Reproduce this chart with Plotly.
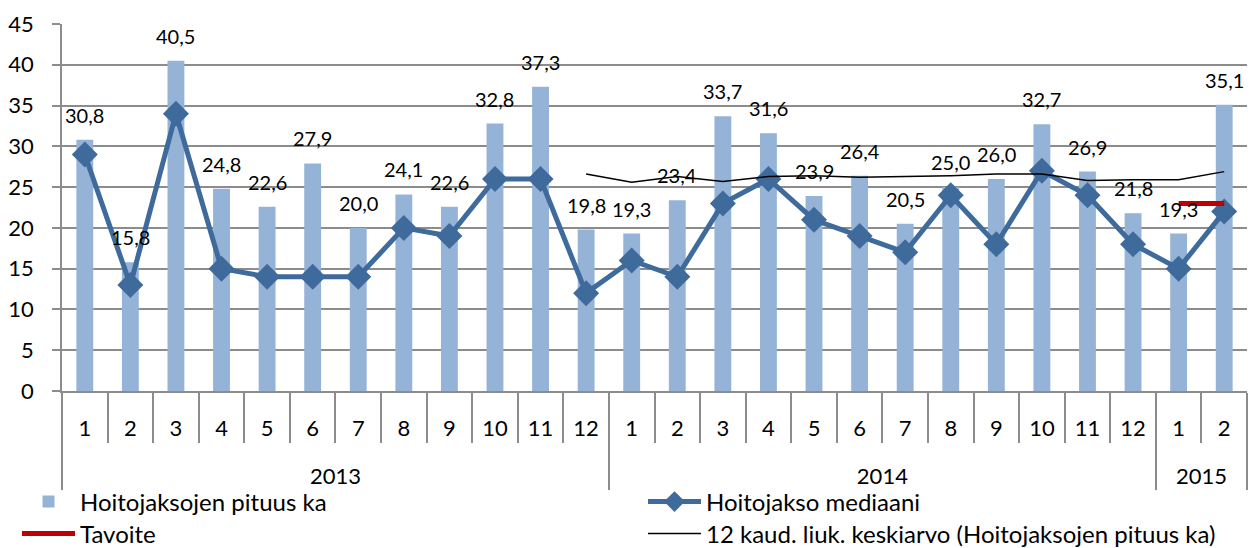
import plotly.graph_objects as go

years = ["2013"] * 12 + ["2014"] * 12 + ["2015"] * 2
months = [str(m) for m in range(1, 13)] * 2 + ["1", "2"]

pituus_ka = [30.8, 15.8, 40.5, 24.8, 22.6, 27.9, 20.0, 24.1, 22.6, 32.8, 37.3, 19.8,
             19.3, 23.4, 33.7, 31.6, 23.9, 26.4, 20.5, 25.0, 26.0, 32.7, 26.9, 21.8,
             19.3, 35.1]
pituus_labels = ["30,8", "15,8", "40,5", "24,8", "22,6", "27,9", "20,0", "24,1", "22,6", "32,8", "37,3", "19,8",
                 "19,3", "23,4", "33,7", "31,6", "23,9", "26,4", "20,5", "25,0", "26,0", "32,7", "26,9", "21,8",
                 "19,3", "35,1"]
mediaani = [29, 13, 34, 15, 14, 14, 14, 20, 19, 26, 26, 12,
            16, 14, 23, 26, 21, 19, 17, 24, 18, 27, 24, 18,
            15, 22]
# 12-month moving average, starting from 2013/12
liuk_start = 11
liuk_keskiarvo = [26.6, 25.6, 26.3, 25.7, 26.3, 26.4, 26.2, 26.3, 26.4, 26.6, 26.6, 25.8, 25.9, 25.9, 26.9]
# target, for 2015/1 - 2015/2
tavoite_start = 24
tavoite = [23, 23]

FONT = "Lato"
LBL = "<span style='font-size:22px'>{}</span>"
month_txt = [LBL.format(m) + "<br> " for m in months]
year_txt = [LBL.format(y) for y in years]
x_all = [year_txt, month_txt]
x_liuk = [year_txt[liuk_start:], month_txt[liuk_start:]]
x_tav = [year_txt[tavoite_start:], month_txt[tavoite_start:]]

fig = go.Figure()
fig.add_trace(go.Bar(x=x_all, y=pituus_ka, name="Hoitojaksojen pituus ka", legend="legend",
                     marker=dict(color="#95B3D7", line=dict(width=0)), width=0.37))
fig.add_trace(go.Scatter(x=x_all, y=mediaani, name="Hoitojakso mediaani", mode="lines+markers",
                         legend="legend2",
                         line=dict(color="#3E6A9C", width=5),
                         marker=dict(symbol="diamond", size=20, color="#3E6A9C")))
fig.add_trace(go.Scatter(x=x_tav, y=tavoite, name="Tavoite", mode="lines", legend="legend3",
                         line=dict(color="#C00000", width=5)))
fig.add_trace(go.Scatter(x=x_liuk, y=liuk_keskiarvo, name="12 kaud. liuk. keskiarvo (Hoitojaksojen pituus ka)",
                         mode="lines", legend="legend4", line=dict(color="black", width=1.5)))

for i, (v, t) in enumerate(zip(pituus_ka, pituus_labels)):
    fig.add_annotation(x=i, y=v, text=t, showarrow=False, yshift=25, yanchor="middle",
                       font=dict(family=FONT, size=20, color="black"))

W, H = 1250, 548


def leg(px_x, px_y):
    return dict(orientation="h", xref="container", yref="container",
                x=px_x / W, y=(H - px_y) / H, xanchor="left", yanchor="middle",
                font=dict(family=FONT, size=24, color="black"), itemwidth=53,
                bgcolor="rgba(0,0,0,0)", borderwidth=0)


fig.update_layout(
    width=W, height=H,
    margin=dict(l=62, r=3, t=24, b=157, autoexpand=False),
    plot_bgcolor="white", paper_bgcolor="white",
    font=dict(family=FONT, size=20, color="black"),
    showlegend=True,
    legend=leg(17, 502),
    legend2=leg(643, 502),
    legend3=leg(17, 534),
    legend4=leg(643, 534),
    bargap=0.63,
)
fig.update_yaxes(range=[0, 45], dtick=5, showgrid=True, gridcolor="#8C8C8C", gridwidth=1.5,
                 showline=True, linecolor="#8C8C8C", linewidth=1.5, ticks="outside", ticklen=8,
                 tickcolor="#8C8C8C", tickwidth=1.5, tickfont=dict(family=FONT, size=22, color="black"),
                 ticklabelstandoff=14, zeroline=False, automargin=False)
fig.update_xaxes(type="multicategory", range=[-0.5, 25.5], autorange=False, automargin=False,
                 showline=True, linecolor="#8C8C8C", linewidth=1.5,
                 ticks="outside", ticklen=50, tickcolor="#8C8C8C", tickwidth=1.5,
                 showdividers=True, dividercolor="#8C8C8C", dividerwidth=1.5,
                 ticklabelstandoff=13,
                 tickfont=dict(family=FONT, size=25, color="black"), showgrid=False)

fig.write_html("out.html", config={"displayModeBar": False},
               post_script="document.body.style.margin='0';")
